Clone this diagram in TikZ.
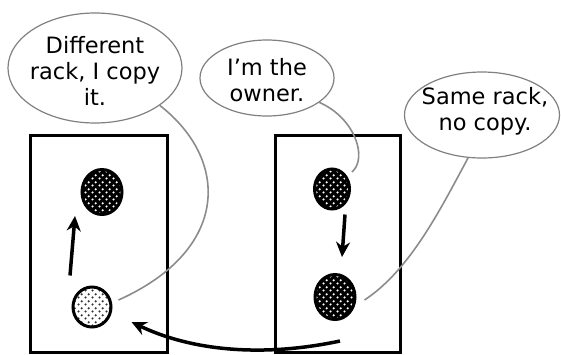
\documentclass[tikz,border=0pt]{standalone}
\usepackage{fontspec}
\setmainfont{DejaVu Sans}
\usetikzlibrary{arrows.meta,shapes.geometric,patterns.meta}

\tikzdeclarepattern{
  name=pebbles,
  type=uncolored,
  bounding box={(0pt,0pt) and (7pt,7pt)},
  tile size={(7pt,7pt)},
  code={\fill (1.75pt,1.75pt) circle (1.3pt); \fill (5.25pt,5.25pt) circle (1.3pt);}
}

\begin{document}
\begin{tikzpicture}[
    x=1pt, y=-1pt,
    inner sep=0pt,
    rack/.style={draw, line width=3pt, minimum height=217pt, minimum width=#1},
    dark/.style={ellipse, draw, line width=3pt, minimum width=40pt, minimum height=45pt,
      preaction={fill=black}, pattern=pebbles, pattern color=white},
    light/.style={ellipse, draw, line width=3pt, minimum width=38pt, minimum height=40pt,
      preaction={fill=white}, pattern=pebbles, pattern color=black!80},
    bubble/.style={ellipse, draw=black!50, line width=1.2pt},
    say/.style={align=center, font=\fontsize{22.5}{26}\selectfont, text=black},
    tail/.style={draw=black!45, line width=1.6pt},
    move/.style={line width=3.5pt, -{Stealth[length=15pt,width=14pt]}}
  ]
  \useasboundingbox (0,0) rectangle (561,354);
  \node (left) [rack=137pt] at (98.5,243.5) {};
  \node (right) [rack=125pt] at (337.5,243.5) {};
  \node (l0) [dark] at (102,192) {};
  \node (l1) [light] at (92,307) {};
  \node (r0) [dark, minimum width=35pt, minimum height=40pt] at (332,189) {};
  \node (r1) [dark] at (335,297) {};

  \node (b1) [bubble, minimum width=174pt, minimum height=110pt] at (95,68) {};
  \node (t1) [say] at (95,71) {Different\\rack, I copy\\it.};
  \node (b2) [bubble, minimum width=134pt, minimum height=76pt] at (267,78) {};
  \node (t2) [say] at (267,80) {I\symbol{39}m the\\owner.};
  \node (b3) [bubble, minimum width=155pt, minimum height=86pt] at (482,115) {};
  \node (t3) [say] at (485,111) {Same rack,\\no copy.};

  \draw[tail] (b1.-30) .. controls (230,160) and (230,250) .. ([shift={(6,-7)}]l1.east);
  \draw[tail] (b2.-25) .. controls (355,118) and (368,158) .. ([shift={(20,-17)}]r0.center);
  \draw[tail] (b3.-108) .. controls (440,210) and (410,270) .. ([shift={(8,3)}]r1.east);

  \draw[move] ([shift={(-22,-10)}]l1.north) -- ([xshift=-27pt]l0.south);
  \draw[move] ([shift={(13,4)}]r0.south) -- ([shift={(7,-16)}]r1.north);
  \draw[move] ([shift={(5,20)}]r1.south) .. controls (260,358) and (190,350) .. ([shift={(19,15)}]l1.east);
\end{tikzpicture}
\end{document}
